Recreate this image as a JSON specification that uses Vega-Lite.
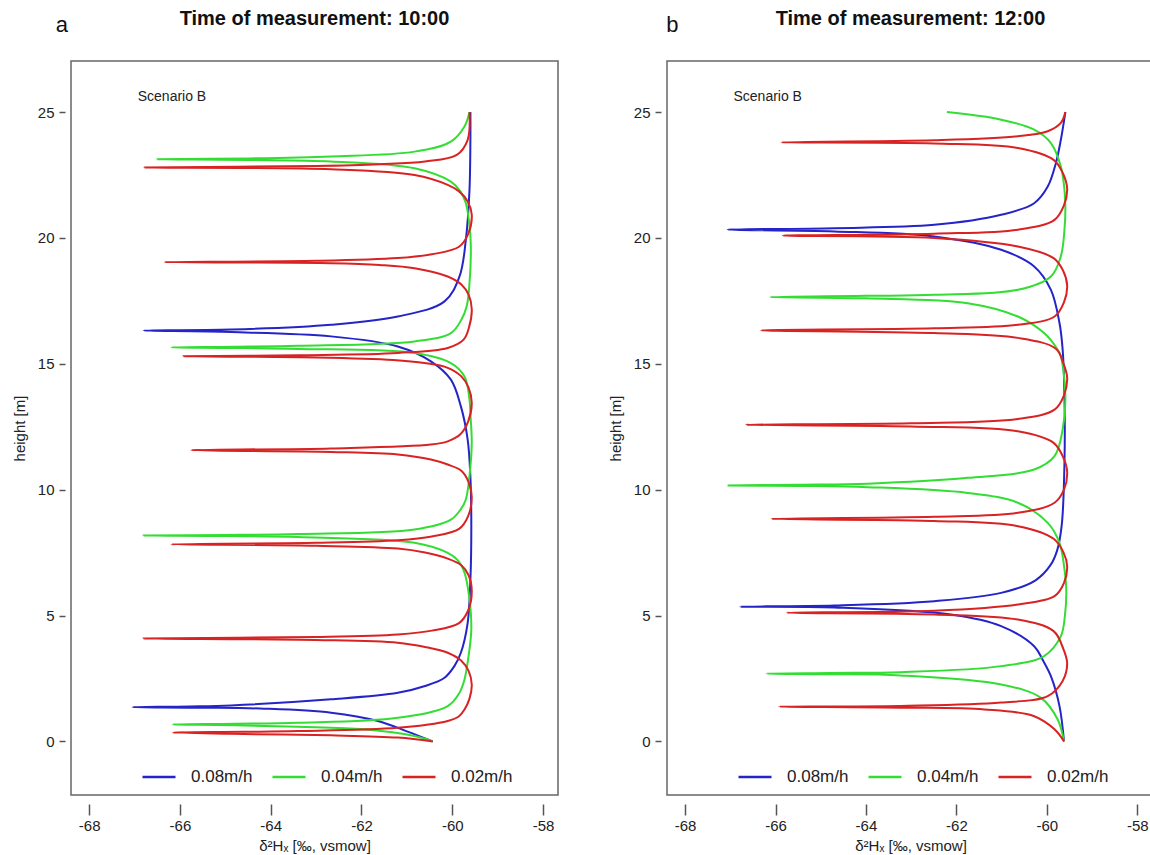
{
"$schema": "https://vega.github.io/schema/vega-lite/v6.json",
"background": "white",
"padding": {"left": 11, "top": 8, "right": 0, "bottom": 0},
"autosize": {"type": "pad"},
"bounds": "flush",
"spacing": 109,
"config": {
  "font": "Liberation Sans",
  "view": {"stroke": "#666", "strokeWidth": 1.5},
  "axis": {"grid": false, "domain": false, "labelFont": "Liberation Sans", "titleFont": "Liberation Sans", "labelFontSize": 15, "titleFontSize": 15, "titleFontWeight": "normal", "labelColor": "#222", "titleColor": "#222", "tickColor": "#555", "tickWidth": 1.5, "labelExpr": "'' + datum.value"},
  "legend": {"orient": "none", "legendX": 70, "legendY": 698, "direction": "horizontal", "symbolType": "stroke", "symbolSize": 1089, "symbolStrokeWidth": 2.5, "labelFont": "Liberation Sans", "labelFontSize": 17, "labelColor": "#222", "labelOffset": 14, "columnPadding": 14, "padding": 0, "title": null}
},
"datasets": {
"a": [
{"s":"0.08m/h","h":0,"v":-60.43},{"s":"0.08m/h","h":0.4,"v":-61.0},{"s":"0.08m/h","h":0.81,"v":-61.64},{"s":"0.08m/h","h":1.14,"v":-62.67},{"s":"0.08m/h","h":1.30,"v":-64.14},{"s":"0.08m/h","h":1.34,"v":-65.5},{"s":"0.08m/h","h":1.36,"v":-67.04},{"s":"0.08m/h","h":1.39,"v":-65.8},{"s":"0.08m/h","h":1.43,"v":-64.87},{"s":"0.08m/h","h":1.67,"v":-62.67},{"s":"0.08m/h","h":1.93,"v":-61.2},{"s":"0.08m/h","h":2.2,"v":-60.6},{"s":"0.08m/h","h":2.53,"v":-60.17},{"s":"0.08m/h","h":3.0,"v":-59.95},{"s":"0.08m/h","h":3.52,"v":-59.81},{"s":"0.08m/h","h":4.71,"v":-59.66},{"s":"0.08m/h","h":6.43,"v":-59.6},{"s":"0.08m/h","h":8.5,"v":-59.58},{"s":"0.08m/h","h":10.5,"v":-59.6},{"s":"0.08m/h","h":11.99,"v":-59.66},{"s":"0.08m/h","h":13.31,"v":-59.81},{"s":"0.08m/h","h":14.37,"v":-60.03},{"s":"0.08m/h","h":15.1,"v":-60.47},{"s":"0.08m/h","h":15.69,"v":-61.2},{"s":"0.08m/h","h":16.09,"v":-62.67},{"s":"0.08m/h","h":16.26,"v":-64.87},{"s":"0.08m/h","h":16.32,"v":-66.8},{"s":"0.08m/h","h":16.36,"v":-64.87},{"s":"0.08m/h","h":16.55,"v":-62.67},{"s":"0.08m/h","h":16.88,"v":-61.2},{"s":"0.08m/h","h":17.48,"v":-60.17},{"s":"0.08m/h","h":18.47,"v":-59.84},{"s":"0.08m/h","h":19.93,"v":-59.7},{"s":"0.08m/h","h":21.91,"v":-59.62},{"s":"0.08m/h","h":23.9,"v":-59.6},{"s":"0.08m/h","h":25,"v":-59.6},
{"s":"0.04m/h","h":0,"v":-60.43},{"s":"0.04m/h","h":0.21,"v":-60.83},{"s":"0.04m/h","h":0.48,"v":-61.94},{"s":"0.04m/h","h":0.58,"v":-63.4},{"s":"0.04m/h","h":0.64,"v":-64.8},{"s":"0.04m/h","h":0.67,"v":-66.16},{"s":"0.04m/h","h":0.70,"v":-64.8},{"s":"0.04m/h","h":0.74,"v":-63.4},{"s":"0.04m/h","h":0.94,"v":-61.2},{"s":"0.04m/h","h":1.4,"v":-60.1},{"s":"0.04m/h","h":1.9,"v":-59.85},{"s":"0.04m/h","h":2.46,"v":-59.73},{"s":"0.04m/h","h":3.4,"v":-59.64},{"s":"0.04m/h","h":4.45,"v":-59.58},{"s":"0.04m/h","h":5.64,"v":-59.62},{"s":"0.04m/h","h":6.7,"v":-59.73},{"s":"0.04m/h","h":7.2,"v":-59.88},{"s":"0.04m/h","h":7.49,"v":-60.1},{"s":"0.04m/h","h":7.89,"v":-60.83},{"s":"0.04m/h","h":8.12,"v":-63.4},{"s":"0.04m/h","h":8.16,"v":-65.0},{"s":"0.04m/h","h":8.18,"v":-66.8},{"s":"0.04m/h","h":8.20,"v":-65.0},{"s":"0.04m/h","h":8.24,"v":-63.4},{"s":"0.04m/h","h":8.42,"v":-60.83},{"s":"0.04m/h","h":8.81,"v":-60.03},{"s":"0.04m/h","h":9.2,"v":-59.82},{"s":"0.04m/h","h":9.61,"v":-59.7},{"s":"0.04m/h","h":10.93,"v":-59.6},{"s":"0.04m/h","h":11.9,"v":-59.57},{"s":"0.04m/h","h":13.0,"v":-59.6},{"s":"0.04m/h","h":13.58,"v":-59.62},{"s":"0.04m/h","h":14.5,"v":-59.73},{"s":"0.04m/h","h":15.03,"v":-60.03},{"s":"0.04m/h","h":15.43,"v":-60.83},{"s":"0.04m/h","h":15.59,"v":-63.4},{"s":"0.04m/h","h":15.63,"v":-64.8},{"s":"0.04m/h","h":15.65,"v":-66.19},{"s":"0.04m/h","h":15.68,"v":-64.8},{"s":"0.04m/h","h":15.72,"v":-63.4},{"s":"0.04m/h","h":15.89,"v":-60.83},{"s":"0.04m/h","h":16.22,"v":-60.03},{"s":"0.04m/h","h":16.75,"v":-59.8},{"s":"0.04m/h","h":17.3,"v":-59.68},{"s":"0.04m/h","h":18.2,"v":-59.62},{"s":"0.04m/h","h":19.4,"v":-59.59},{"s":"0.04m/h","h":20.33,"v":-59.61},{"s":"0.04m/h","h":21.38,"v":-59.7},{"s":"0.04m/h","h":21.85,"v":-59.82},{"s":"0.04m/h","h":22.24,"v":-60.03},{"s":"0.04m/h","h":22.77,"v":-60.83},{"s":"0.04m/h","h":23.04,"v":-62.67},{"s":"0.04m/h","h":23.10,"v":-64.5},{"s":"0.04m/h","h":23.13,"v":-66.5},{"s":"0.04m/h","h":23.16,"v":-64.5},{"s":"0.04m/h","h":23.24,"v":-62.67},{"s":"0.04m/h","h":23.43,"v":-60.83},{"s":"0.04m/h","h":23.83,"v":-60.03},{"s":"0.04m/h","h":24.43,"v":-59.73},{"s":"0.04m/h","h":25,"v":-59.62},
{"s":"0.02m/h","h":0,"v":-60.43},{"s":"0.02m/h","h":0.15,"v":-61.2},{"s":"0.02m/h","h":0.24,"v":-62.67},{"s":"0.02m/h","h":0.30,"v":-64.87},{"s":"0.02m/h","h":0.35,"v":-66.16},{"s":"0.02m/h","h":0.38,"v":-64.6},{"s":"0.02m/h","h":0.41,"v":-63.4},{"s":"0.02m/h","h":0.54,"v":-61.2},{"s":"0.02m/h","h":0.81,"v":-60.1},{"s":"0.02m/h","h":1.0,"v":-59.85},{"s":"0.02m/h","h":1.27,"v":-59.73},{"s":"0.02m/h","h":1.7,"v":-59.62},{"s":"0.02m/h","h":2.25,"v":-59.57},{"s":"0.02m/h","h":2.8,"v":-59.64},{"s":"0.02m/h","h":3.2,"v":-59.8},{"s":"0.02m/h","h":3.52,"v":-60.1},{"s":"0.02m/h","h":3.75,"v":-60.6},{"s":"0.02m/h","h":3.92,"v":-61.2},{"s":"0.02m/h","h":4.03,"v":-63.0},{"s":"0.02m/h","h":4.09,"v":-66.8},{"s":"0.02m/h","h":4.15,"v":-63.0},{"s":"0.02m/h","h":4.25,"v":-61.2},{"s":"0.02m/h","h":4.4,"v":-60.45},{"s":"0.02m/h","h":4.7,"v":-59.85},{"s":"0.02m/h","h":5.2,"v":-59.65},{"s":"0.02m/h","h":5.96,"v":-59.57},{"s":"0.02m/h","h":6.6,"v":-59.64},{"s":"0.02m/h","h":7.0,"v":-59.8},{"s":"0.02m/h","h":7.26,"v":-60.1},{"s":"0.02m/h","h":7.5,"v":-60.6},{"s":"0.02m/h","h":7.66,"v":-61.2},{"s":"0.02m/h","h":7.77,"v":-63.0},{"s":"0.02m/h","h":7.83,"v":-66.19},{"s":"0.02m/h","h":7.89,"v":-63.0},{"s":"0.02m/h","h":7.99,"v":-61.2},{"s":"0.02m/h","h":8.14,"v":-60.45},{"s":"0.02m/h","h":8.44,"v":-59.85},{"s":"0.02m/h","h":8.95,"v":-59.65},{"s":"0.02m/h","h":9.7,"v":-59.57},{"s":"0.02m/h","h":10.3,"v":-59.64},{"s":"0.02m/h","h":10.75,"v":-59.8},{"s":"0.02m/h","h":11.0,"v":-60.1},{"s":"0.02m/h","h":11.2,"v":-60.47},{"s":"0.02m/h","h":11.4,"v":-61.2},{"s":"0.02m/h","h":11.5,"v":-62.67},{"s":"0.02m/h","h":11.57,"v":-65.75},{"s":"0.02m/h","h":11.64,"v":-62.67},{"s":"0.02m/h","h":11.79,"v":-60.47},{"s":"0.02m/h","h":11.92,"v":-60.1},{"s":"0.02m/h","h":12.2,"v":-59.82},{"s":"0.02m/h","h":12.7,"v":-59.65},{"s":"0.02m/h","h":13.44,"v":-59.57},{"s":"0.02m/h","h":14.05,"v":-59.64},{"s":"0.02m/h","h":14.5,"v":-59.8},{"s":"0.02m/h","h":14.84,"v":-60.1},{"s":"0.02m/h","h":15.03,"v":-60.61},{"s":"0.02m/h","h":15.15,"v":-61.3},{"s":"0.02m/h","h":15.25,"v":-63.0},{"s":"0.02m/h","h":15.30,"v":-65.92},{"s":"0.02m/h","h":15.34,"v":-63.4},{"s":"0.02m/h","h":15.43,"v":-61.2},{"s":"0.02m/h","h":15.63,"v":-60.1},{"s":"0.02m/h","h":15.96,"v":-59.75},{"s":"0.02m/h","h":16.45,"v":-59.63},{"s":"0.02m/h","h":17.17,"v":-59.57},{"s":"0.02m/h","h":17.75,"v":-59.64},{"s":"0.02m/h","h":18.15,"v":-59.8},{"s":"0.02m/h","h":18.47,"v":-60.1},{"s":"0.02m/h","h":18.8,"v":-60.83},{"s":"0.02m/h","h":18.93,"v":-61.6},{"s":"0.02m/h","h":19.0,"v":-62.67},{"s":"0.02m/h","h":19.04,"v":-66.34},{"s":"0.02m/h","h":19.09,"v":-63.0},{"s":"0.02m/h","h":19.2,"v":-61.2},{"s":"0.02m/h","h":19.35,"v":-60.45},{"s":"0.02m/h","h":19.65,"v":-59.85},{"s":"0.02m/h","h":20.15,"v":-59.65},{"s":"0.02m/h","h":20.92,"v":-59.57},{"s":"0.02m/h","h":21.45,"v":-59.66},{"s":"0.02m/h","h":21.85,"v":-59.85},{"s":"0.02m/h","h":22.11,"v":-60.1},{"s":"0.02m/h","h":22.5,"v":-60.83},{"s":"0.02m/h","h":22.73,"v":-62.67},{"s":"0.02m/h","h":22.80,"v":-66.78},{"s":"0.02m/h","h":22.86,"v":-63.0},{"s":"0.02m/h","h":22.93,"v":-61.6},{"s":"0.02m/h","h":23.04,"v":-60.6},{"s":"0.02m/h","h":23.3,"v":-59.9},{"s":"0.02m/h","h":23.9,"v":-59.66},{"s":"0.02m/h","h":25,"v":-59.62}
],
"b": [
{"s":"0.08m/h","h":0,"v":-59.62},{"s":"0.08m/h","h":1.4,"v":-59.72},{"s":"0.08m/h","h":2.59,"v":-59.91},{"s":"0.08m/h","h":3.2,"v":-60.08},{"s":"0.08m/h","h":3.78,"v":-60.28},{"s":"0.08m/h","h":4.58,"v":-61.01},{"s":"0.08m/h","h":5.04,"v":-62.12},{"s":"0.08m/h","h":5.32,"v":-64.7},{"s":"0.08m/h","h":5.35,"v":-66.78},{"s":"0.08m/h","h":5.40,"v":-64.7},{"s":"0.08m/h","h":5.57,"v":-62.49},{"s":"0.08m/h","h":5.9,"v":-61.01},{"s":"0.08m/h","h":6.4,"v":-60.25},{"s":"0.08m/h","h":7.0,"v":-59.92},{"s":"0.08m/h","h":7.6,"v":-59.77},{"s":"0.08m/h","h":8.6,"v":-59.67},{"s":"0.08m/h","h":11.06,"v":-59.61},{"s":"0.08m/h","h":13.71,"v":-59.61},{"s":"0.08m/h","h":15.56,"v":-59.65},{"s":"0.08m/h","h":16.62,"v":-59.72},{"s":"0.08m/h","h":17.94,"v":-59.91},{"s":"0.08m/h","h":18.87,"v":-60.28},{"s":"0.08m/h","h":19.53,"v":-61.01},{"s":"0.08m/h","h":20.06,"v":-62.49},{"s":"0.08m/h","h":20.26,"v":-64.7},{"s":"0.08m/h","h":20.33,"v":-67.06},{"s":"0.08m/h","h":20.39,"v":-64.7},{"s":"0.08m/h","h":20.52,"v":-62.49},{"s":"0.08m/h","h":20.92,"v":-61.01},{"s":"0.08m/h","h":21.38,"v":-60.28},{"s":"0.08m/h","h":22.04,"v":-59.98},{"s":"0.08m/h","h":22.97,"v":-59.8},{"s":"0.08m/h","h":23.9,"v":-59.69},{"s":"0.08m/h","h":25,"v":-59.59},
{"s":"0.04m/h","h":0,"v":-59.62},{"s":"0.04m/h","h":0.87,"v":-59.76},{"s":"0.04m/h","h":1.73,"v":-60.13},{"s":"0.04m/h","h":2.26,"v":-61.01},{"s":"0.04m/h","h":2.62,"v":-63.23},{"s":"0.04m/h","h":2.67,"v":-64.8},{"s":"0.04m/h","h":2.69,"v":-66.2},{"s":"0.04m/h","h":2.72,"v":-64.8},{"s":"0.04m/h","h":2.75,"v":-63.23},{"s":"0.04m/h","h":2.99,"v":-61.01},{"s":"0.04m/h","h":3.39,"v":-60.06},{"s":"0.04m/h","h":4.18,"v":-59.69},{"s":"0.04m/h","h":5.0,"v":-59.6},{"s":"0.04m/h","h":6.0,"v":-59.57},{"s":"0.04m/h","h":6.83,"v":-59.61},{"s":"0.04m/h","h":7.89,"v":-59.72},{"s":"0.04m/h","h":8.68,"v":-59.98},{"s":"0.04m/h","h":9.48,"v":-60.64},{"s":"0.04m/h","h":9.87,"v":-61.75},{"s":"0.04m/h","h":10.1,"v":-63.96},{"s":"0.04m/h","h":10.15,"v":-65.5},{"s":"0.04m/h","h":10.17,"v":-67.06},{"s":"0.04m/h","h":10.2,"v":-65.5},{"s":"0.04m/h","h":10.24,"v":-63.96},{"s":"0.04m/h","h":10.47,"v":-61.75},{"s":"0.04m/h","h":10.8,"v":-60.28},{"s":"0.04m/h","h":11.33,"v":-59.83},{"s":"0.04m/h","h":12.39,"v":-59.65},{"s":"0.04m/h","h":13.71,"v":-59.59},{"s":"0.04m/h","h":15.3,"v":-59.69},{"s":"0.04m/h","h":15.56,"v":-59.76},{"s":"0.04m/h","h":16.22,"v":-60.06},{"s":"0.04m/h","h":16.88,"v":-60.64},{"s":"0.04m/h","h":17.41,"v":-61.75},{"s":"0.04m/h","h":17.6,"v":-64.0},{"s":"0.04m/h","h":17.65,"v":-66.12},{"s":"0.04m/h","h":17.70,"v":-64.0},{"s":"0.04m/h","h":17.74,"v":-62.49},{"s":"0.04m/h","h":17.94,"v":-60.64},{"s":"0.04m/h","h":18.47,"v":-59.91},{"s":"0.04m/h","h":19.27,"v":-59.69},{"s":"0.04m/h","h":20.33,"v":-59.61},{"s":"0.04m/h","h":21.2,"v":-59.59},{"s":"0.04m/h","h":21.91,"v":-59.61},{"s":"0.04m/h","h":22.84,"v":-59.69},{"s":"0.04m/h","h":23.77,"v":-59.91},{"s":"0.04m/h","h":24.3,"v":-60.28},{"s":"0.04m/h","h":24.7,"v":-61.01},{"s":"0.04m/h","h":25,"v":-62.21},
{"s":"0.02m/h","h":0,"v":-59.62},{"s":"0.02m/h","h":0.48,"v":-59.83},{"s":"0.02m/h","h":1.0,"v":-60.28},{"s":"0.02m/h","h":1.27,"v":-61.38},{"s":"0.02m/h","h":1.34,"v":-63.23},{"s":"0.02m/h","h":1.38,"v":-65.92},{"s":"0.02m/h","h":1.41,"v":-63.23},{"s":"0.02m/h","h":1.54,"v":-61.01},{"s":"0.02m/h","h":1.8,"v":-59.98},{"s":"0.02m/h","h":2.4,"v":-59.65},{"s":"0.02m/h","h":3.1,"v":-59.55},{"s":"0.02m/h","h":3.7,"v":-59.64},{"s":"0.02m/h","h":4.38,"v":-59.85},{"s":"0.02m/h","h":4.84,"v":-60.64},{"s":"0.02m/h","h":5.04,"v":-62.49},{"s":"0.02m/h","h":5.11,"v":-65.75},{"s":"0.02m/h","h":5.19,"v":-62.49},{"s":"0.02m/h","h":5.44,"v":-60.64},{"s":"0.02m/h","h":5.77,"v":-59.83},{"s":"0.02m/h","h":6.3,"v":-59.62},{"s":"0.02m/h","h":6.95,"v":-59.55},{"s":"0.02m/h","h":7.5,"v":-59.63},{"s":"0.02m/h","h":8.05,"v":-59.85},{"s":"0.02m/h","h":8.55,"v":-60.64},{"s":"0.02m/h","h":8.76,"v":-62.49},{"s":"0.02m/h","h":8.84,"v":-66.09},{"s":"0.02m/h","h":8.92,"v":-62.49},{"s":"0.02m/h","h":9.08,"v":-60.64},{"s":"0.02m/h","h":9.48,"v":-59.83},{"s":"0.02m/h","h":10.0,"v":-59.62},{"s":"0.02m/h","h":10.7,"v":-59.55},{"s":"0.02m/h","h":11.25,"v":-59.63},{"s":"0.02m/h","h":11.86,"v":-59.85},{"s":"0.02m/h","h":12.32,"v":-60.64},{"s":"0.02m/h","h":12.51,"v":-63.0},{"s":"0.02m/h","h":12.58,"v":-66.65},{"s":"0.02m/h","h":12.64,"v":-63.0},{"s":"0.02m/h","h":12.81,"v":-60.64},{"s":"0.02m/h","h":13.18,"v":-59.83},{"s":"0.02m/h","h":13.75,"v":-59.62},{"s":"0.02m/h","h":14.45,"v":-59.55},{"s":"0.02m/h","h":15.0,"v":-59.63},{"s":"0.02m/h","h":15.6,"v":-59.8},{"s":"0.02m/h","h":16.03,"v":-60.64},{"s":"0.02m/h","h":16.22,"v":-62.49},{"s":"0.02m/h","h":16.33,"v":-66.32},{"s":"0.02m/h","h":16.41,"v":-62.49},{"s":"0.02m/h","h":16.55,"v":-60.64},{"s":"0.02m/h","h":16.88,"v":-59.83},{"s":"0.02m/h","h":17.45,"v":-59.62},{"s":"0.02m/h","h":18.1,"v":-59.55},{"s":"0.02m/h","h":18.7,"v":-59.64},{"s":"0.02m/h","h":19.2,"v":-59.85},{"s":"0.02m/h","h":19.66,"v":-60.64},{"s":"0.02m/h","h":20.0,"v":-62.49},{"s":"0.02m/h","h":20.09,"v":-65.84},{"s":"0.02m/h","h":20.17,"v":-62.49},{"s":"0.02m/h","h":20.33,"v":-60.64},{"s":"0.02m/h","h":20.72,"v":-59.83},{"s":"0.02m/h","h":21.3,"v":-59.62},{"s":"0.02m/h","h":21.95,"v":-59.55},{"s":"0.02m/h","h":22.55,"v":-59.64},{"s":"0.02m/h","h":23.1,"v":-59.85},{"s":"0.02m/h","h":23.57,"v":-60.64},{"s":"0.02m/h","h":23.75,"v":-62.49},{"s":"0.02m/h","h":23.80,"v":-65.87},{"s":"0.02m/h","h":23.88,"v":-62.49},{"s":"0.02m/h","h":24.04,"v":-60.64},{"s":"0.02m/h","h":24.24,"v":-59.98},{"s":"0.02m/h","h":24.57,"v":-59.69},{"s":"0.02m/h","h":25,"v":-59.59}
]
},
"hconcat": [
{
  "width": 487, "height": 734,
  "title": {"text": "Time of measurement: 10:00", "frame": "group", "anchor": "middle", "baseline": "alphabetic", "offset": -31, "font": "Liberation Sans", "fontSize": 20, "fontWeight": "bold", "color": "#111"},
  "layer": [
    {"data": {"name": "a"},
     "mark": {"type": "line", "strokeWidth": 2, "interpolate": "catmull-rom"},
     "encoding": {
       "x": {"field": "v", "type": "quantitative", "scale": {"domain": [-68.4, -57.67], "nice": false, "zero": false}, "axis": {"values": [-68,-66,-64,-62,-60,-58], "title": "δ²Hₓ [‰, vsmow]", "offset": 9, "tickSize": 11, "labelPadding": 3, "titlePadding": 5}},
       "y": {"field": "h", "type": "quantitative", "scale": {"domain": [-2.13, 27.03], "nice": false, "zero": false}, "axis": {"values": [0,5,10,15,20,25], "title": "height [m]", "offset": 6, "tickSize": 6, "labelPadding": 5, "titlePadding": 10}},
       "color": {"field": "s", "type": "nominal", "scale": {"domain": ["0.08m/h","0.04m/h","0.02m/h"], "range": ["#2424c8","#33dd33","#d92222"]}, "legend": {"orient": "none", "legendX": 70, "legendY": 698, "direction": "horizontal", "title": null}},
       "order": {"field": "h", "type": "quantitative"}
     }},
    {"data": {"values": [{"v": -66.93, "h": 25.45, "t": "Scenario B"}]},
     "mark": {"type": "text", "align": "left", "baseline": "alphabetic", "fontSize": 14, "color": "#222"},
     "encoding": {"x": {"field": "v", "type": "quantitative"}, "y": {"field": "h", "type": "quantitative"}, "text": {"field": "t"}}},
    {"data": {"values": [{"v": -68.6, "h": 28.17, "t": "a"}]},
     "mark": {"type": "text", "align": "center", "baseline": "alphabetic", "fontSize": 22, "color": "#111"},
     "encoding": {"x": {"field": "v", "type": "quantitative"}, "y": {"field": "h", "type": "quantitative"}, "text": {"field": "t"}}}
  ]
},
{
  "width": 487, "height": 734,
  "title": {"text": "Time of measurement: 12:00", "frame": "group", "anchor": "middle", "baseline": "alphabetic", "offset": -31, "font": "Liberation Sans", "fontSize": 20, "fontWeight": "bold", "color": "#111"},
  "layer": [
    {"data": {"name": "b"},
     "mark": {"type": "line", "strokeWidth": 2, "interpolate": "catmull-rom"},
     "encoding": {
       "x": {"field": "v", "type": "quantitative", "scale": {"domain": [-68.4, -57.63], "nice": false, "zero": false}, "axis": {"values": [-68,-66,-64,-62,-60,-58], "title": "δ²Hₓ [‰, vsmow]", "offset": 9, "tickSize": 11, "labelPadding": 3, "titlePadding": 5}},
       "y": {"field": "h", "type": "quantitative", "scale": {"domain": [-2.13, 27.03], "nice": false, "zero": false}, "axis": {"values": [0,5,10,15,20,25], "title": "height [m]", "offset": 6, "tickSize": 6, "labelPadding": 5, "titlePadding": 10}},
       "color": {"field": "s", "type": "nominal", "scale": {"domain": ["0.08m/h","0.04m/h","0.02m/h"], "range": ["#2424c8","#33dd33","#d92222"]}, "legend": {"orient": "none", "legendX": 70, "legendY": 698, "direction": "horizontal", "title": null}},
       "order": {"field": "h", "type": "quantitative"}
     }},
    {"data": {"values": [{"v": -66.93, "h": 25.45, "t": "Scenario B"}]},
     "mark": {"type": "text", "align": "left", "baseline": "alphabetic", "fontSize": 14, "color": "#222"},
     "encoding": {"x": {"field": "v", "type": "quantitative"}, "y": {"field": "h", "type": "quantitative"}, "text": {"field": "t"}}},
    {"data": {"values": [{"v": -68.28, "h": 28.17, "t": "b"}]},
     "mark": {"type": "text", "align": "center", "baseline": "alphabetic", "fontSize": 22, "color": "#111"},
     "encoding": {"x": {"field": "v", "type": "quantitative"}, "y": {"field": "h", "type": "quantitative"}, "text": {"field": "t"}}}
  ]
}
],
"resolve": {"scale": {"color": "independent"}, "legend": {"color": "independent"}}
}
